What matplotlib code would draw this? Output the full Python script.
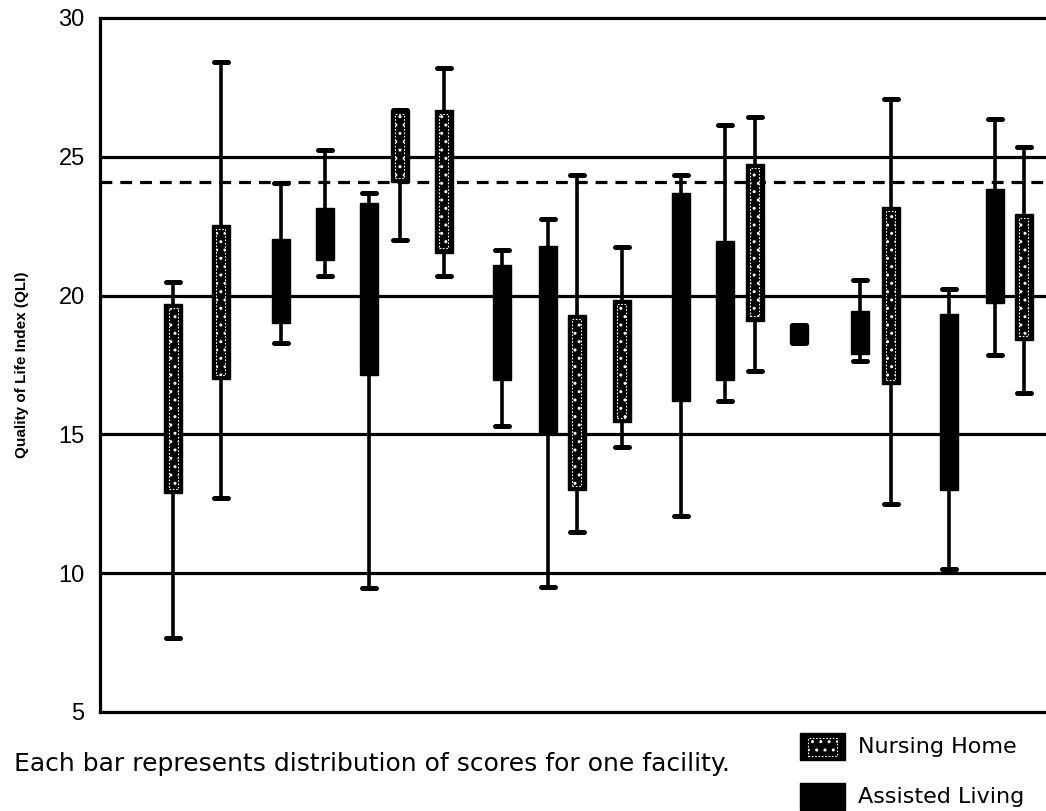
import matplotlib
matplotlib.use("Agg")
import matplotlib.pyplot as plt
from matplotlib.patches import Rectangle

# ---- data ----
facility_type = ["NH", "NH", "AL", "AL", "AL", "NH", "NH", "AL", "AL", "NH",
                 "NH", "AL", "AL", "NH", "AL", "AL", "NH", "AL", "AL", "NH"]
whisker_low  = [7.65, 12.7, 18.3, 20.7, 9.45, 22.0, 20.7, 15.3, 9.5, 11.5,
                14.55, 12.05, 16.2, 17.3, 18.3, 17.65, 12.5, 10.15, 17.85, 16.5]
box_low      = [12.9, 17.0, 19.0, 21.3, 17.15, 24.1, 21.55, 16.95, 15.05, 13.0,
                15.45, 16.2, 16.95, 19.1, 18.3, 17.9, 16.8, 13.0, 19.75, 18.4]
box_high     = [19.7, 22.55, 22.05, 23.15, 23.35, 26.7, 26.7, 21.1, 21.8, 19.3,
                19.85, 23.7, 21.95, 24.75, 18.95, 19.45, 23.2, 19.35, 23.85, 22.95]
whisker_high = [20.5, 28.4, 24.05, 25.25, 23.7, 26.7, 28.2, 21.65, 22.75, 24.35,
                21.75, 24.35, 26.15, 26.45, 18.95, 20.55, 27.1, 20.25, 26.35, 25.35]
# horizontal placement of each facility (irregular in the original)
facility_pos = [73, 121, 181, 225, 269, 300, 344, 402, 448, 477,
                522, 581, 625, 655, 699, 760, 791, 849, 895, 924]
reference_lines = [10, 15, 20, 25]
dashed_line = 24.1
y_ticks = [5, 10, 15, 20, 25, 30]
y_label = "Quality of Life Index (QLI)"
note_text = "Each bar represents distribution of scores for one facility."
legend_labels = ["Nursing Home", "Assisted Living"]

# ---- figure ----
W, H = 1046, 811
fig = plt.figure(figsize=(W / 100, H / 100), dpi=100)
ax = fig.add_axes([100 / W, 1 - 712 / H, 960 / W, (712 - 18) / H])
ax.set_xlim(0, 960)
ax.set_ylim(5, 30)

lw = 2.3
for yv in reference_lines:
    ax.axhline(yv, color="black", lw=lw, zorder=1)
ax.axhline(dashed_line, color="black", lw=lw, ls=(0, (3.7, 2.5)), zorder=1)

box_w = 18
cap_w = 14
for t, p, wl, bl, bh, wh in zip(facility_type, facility_pos, whisker_low,
                                box_low, box_high, whisker_high):
    ax.vlines(p, wl, wh, color="black", lw=2.6, zorder=2)
    ax.hlines([wl, wh], p - cap_w / 2, p + cap_w / 2, color="black", lw=3.6,
              capstyle="round", zorder=2)
    ax.add_patch(Rectangle((p - box_w / 2, bl), box_w, bh - bl,
                           facecolor="black", edgecolor="black", lw=1, zorder=3))
    if t == "NH":
        iw = box_w * 0.5
        ax.add_patch(Rectangle((p - iw / 2, bl + 0.15), iw, bh - bl - 0.3,
                               facecolor="none", edgecolor="white", lw=0.8,
                               ls=(0, (1.5, 1.5)), hatch="..", zorder=4))

for s in ["top", "left", "bottom"]:
    ax.spines[s].set_linewidth(2.3)
ax.spines["right"].set_visible(False)
ax.set_xticks([])
ax.set_yticks(y_ticks)
ax.set_yticklabels([str(v) for v in y_ticks], fontsize=17,
                   family="Liberation Sans")
ax.tick_params(axis="y", length=0, pad=11)

fig.text(22 / W, 1 - 365 / H, y_label, rotation=90, ha="center", va="center",
         fontsize=11, fontweight="bold", family="Liberation Sans")

fig.text(14 / W, 1 - 764 / H, note_text, ha="left", va="center",
         fontsize=18, family="DejaVu Sans")

# legend patches
leg_y = [747, 797]
for i, lab in enumerate(legend_labels):
    y0 = leg_y[i]
    fig.patches.append(Rectangle((800 / W, 1 - (y0 + 13) / H), 45 / W, 27 / H,
                                 transform=fig.transFigure, facecolor="black",
                                 edgecolor="black"))
    if i == 0:
        fig.patches.append(Rectangle((808 / W, 1 - (y0 + 9) / H), 29 / W, 18 / H,
                                     transform=fig.transFigure, facecolor="none",
                                     edgecolor="white", lw=0.8, ls=(0, (1.5, 1.5)),
                                     hatch=".."))
    fig.text(858 / W, 1 - y0 / H, lab, ha="left", va="center", fontsize=16,
             family="DejaVu Sans")

fig.savefig("out.png", dpi=100)
